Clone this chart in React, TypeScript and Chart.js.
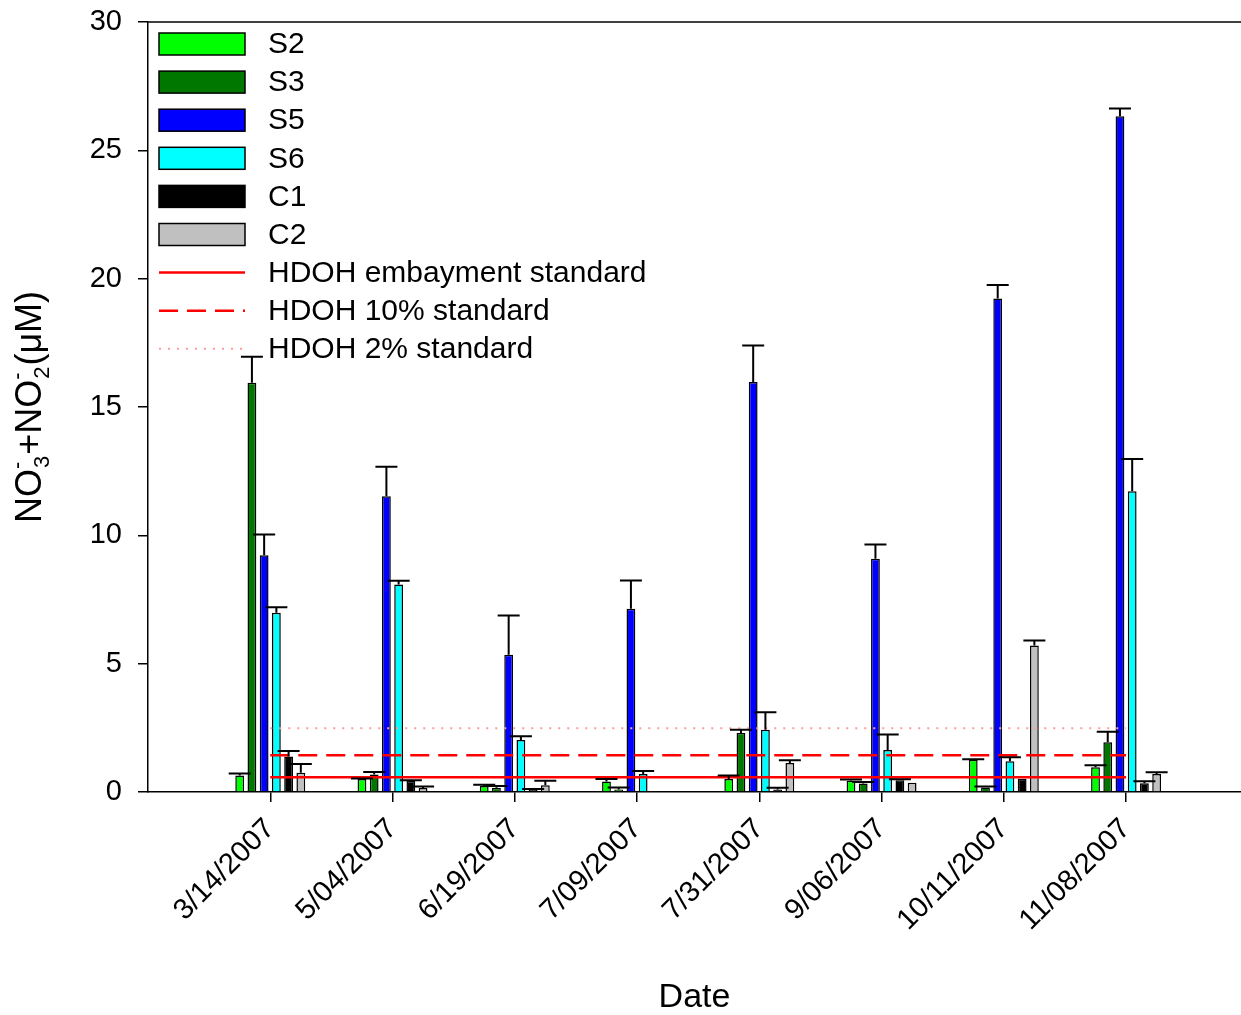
import React, { useEffect, useRef } from 'react';
import { Chart, registerables } from 'chart.js';

Chart.register(...registerables);

const FONT = "'Liberation Sans', Arial, Helvetica, sans-serif";

// ---------- data ----------
const DATES = ['3/14/2007', '5/04/2007', '6/19/2007', '7/09/2007', '7/31/2007', '9/06/2007', '10/11/2007', '11/08/2007'];
const DATE_POS = [1, 2, 3, 4, 5, 6, 7, 8];

const SERIES_NAMES = ['S2', 'S3', 'S5', 'S6', 'C1', 'C2'];

const S2 = [0.64, 0.51, 0.23, 0.41, 0.51, 0.44, 1.26, 0.96];
const S2_ERR = [0.08, 0.02, 0.05, 0.1, 0.13, 0.05, 0.02, 0.08];
const S3 = [15.94, 0.68, 0.17, 0.1, 2.3, 0.33, 0.18, 1.94];
const S3_ERR = [1.02, 0.1, 0.06, 0.08, 0.13, 0.06, 0.03, 0.41];
const S5 = [9.22, 11.52, 5.35, 7.14, 15.97, 9.09, 19.23, 26.33];
const S5_ERR = [0.81, 1.15, 1.53, 1.1, 1.43, 0.55, 0.52, 0.3];
const S6 = [6.98, 8.08, 2.03, 0.7, 2.43, 1.64, 1.2, 11.72];
const S6_ERR = [0.22, 0.15, 0.14, 0.12, 0.68, 0.6, 0.15, 1.25];
const C1 = [1.38, 0.43, 0.08, null, 0.1, 0.46, 0.52, 0.34];
const C1_ERR = [0.22, 0.03, 0.04, 0, 0.07, 0.04, 0, 0.08];
const C2 = [0.75, 0.16, 0.26, null, 1.13, 0.36, 5.71, 0.7];
const C2_ERR = [0.34, 0.05, 0.18, 0, 0.11, 0, 0.19, 0.07];

const SERIES_VALUES = [S2, S3, S5, S6, C1, C2];
const SERIES_ERRORS = [S2_ERR, S3_ERR, S5_ERR, S6_ERR, C1_ERR, C2_ERR];

const STANDARD_NAMES = ['HDOH embayment standard', 'HDOH 10% standard', 'HDOH 2% standard'];
const STANDARD_VALUES = [0.57, 1.43, 2.48];

const Y_TICKS = [0, 5, 10, 15, 20, 25, 30];

// ---------- styles ----------
const SERIES_COLORS = ['#00ff00', '#007800', '#0000ff', '#00ffff', '#000000', '#c0c0c0'];
const STANDARD_STYLES = [
  { color: '#ff0000', width: 2.5, dash: [] as number[] },
  { color: '#ff0000', width: 2.5, dash: [19, 9] },
  { color: '#ff9c9c', width: 2, dash: [2, 7] },
];

const errorBarPlugin = {
  id: 'errorBars',
  afterDatasetsDraw(chart: any) {
    const ctx = chart.ctx;
    const yScale = chart.scales.y;
    ctx.save();
    ctx.strokeStyle = '#000';
    ctx.lineWidth = 2;
    chart.data.datasets.forEach((ds: any, i: number) => {
      if (!ds.errorValues) return;
      const meta = chart.getDatasetMeta(i);
      meta.data.forEach((el: any, j: number) => {
        const v = ds.data[j].y;
        const e = ds.errorValues[j];
        if (v == null || !e) return;
        const yTop = yScale.getPixelForValue(v + e);
        ctx.beginPath();
        ctx.moveTo(el.x, el.y);
        ctx.lineTo(el.x, yTop);
        ctx.moveTo(el.x - 11, yTop);
        ctx.lineTo(el.x + 11, yTop);
        ctx.stroke();
      });
    });
    ctx.restore();
  },
};

const framePlugin = {
  id: 'frameAndLabels',
  afterDraw(chart: any) {
    const { ctx, chartArea } = chart;
    ctx.save();
    // top frame line
    ctx.strokeStyle = '#000';
    ctx.lineWidth = 1.5;
    ctx.beginPath();
    ctx.moveTo(chartArea.left, chartArea.top);
    ctx.lineTo(chartArea.right, chartArea.top);
    ctx.stroke();

    // legend
    const x0 = chartArea.left + 11;
    const boxW = 86;
    const boxH = 22;
    const textX = chartArea.left + 120;
    const rowH = 38.1;
    const y0 = chartArea.top + 22;
    ctx.font = `30px ${FONT}`;
    ctx.textBaseline = 'middle';
    ctx.textAlign = 'left';
    chart.data.datasets.forEach((ds: any, i: number) => {
      const cy = y0 + i * rowH;
      if (ds.type === 'line') {
        ctx.strokeStyle = ds.borderColor;
        ctx.lineWidth = ds.borderWidth;
        ctx.setLineDash(ds.borderDash || []);
        ctx.beginPath();
        ctx.moveTo(x0, cy);
        ctx.lineTo(x0 + boxW, cy);
        ctx.stroke();
        ctx.setLineDash([]);
      } else {
        ctx.fillStyle = ds.backgroundColor;
        ctx.fillRect(x0, cy - boxH / 2, boxW, boxH);
        ctx.strokeStyle = '#000';
        ctx.lineWidth = 1.5;
        ctx.strokeRect(x0, cy - boxH / 2, boxW, boxH);
      }
      ctx.fillStyle = '#000';
      ctx.fillText(ds.label, textX, cy + 1);
    });

    // y-axis title with sub/superscripts
    const big = 36;
    const small = 22;
    const parts: any[] = [
      { t: 'NO' },
      { sub: '3', sup: '-' },
      { t: '+NO' },
      { sub: '2', sup: '-' },
      { t: '(\u03bcM)' },
    ];
    const widths = parts.map((p) => {
      if (p.t) {
        ctx.font = `${big}px ${FONT}`;
        return ctx.measureText(p.t).width;
      }
      ctx.font = `${small}px ${FONT}`;
      return Math.max(ctx.measureText(p.sub).width, ctx.measureText(p.sup).width) + 2;
    });
    const total = widths.reduce((a: number, b: number) => a + b, 0);
    const cy = 407;
    ctx.translate(41, cy + total / 2);
    ctx.rotate(-Math.PI / 2);
    ctx.textBaseline = 'alphabetic';
    ctx.fillStyle = '#000';
    let x = 0;
    parts.forEach((p, k) => {
      if (p.t) {
        ctx.font = `${big}px ${FONT}`;
        ctx.fillText(p.t, x, 0);
      } else {
        ctx.font = `${small}px ${FONT}`;
        ctx.fillText(p.sub, x + 1, 8);
        ctx.fillText(p.sup, x, -17);
      }
      x += widths[k];
    });
    ctx.restore();
  },
};

export default function App() {
  const ref = useRef<HTMLCanvasElement | null>(null);

  useEffect(() => {
    if (!ref.current) return;
    const barSets = SERIES_NAMES.map((name, i) => ({
      type: 'bar' as const,
      label: name,
      data: DATE_POS.map((p, j) => ({ x: p, y: SERIES_VALUES[i][j] })),
      errorValues: SERIES_ERRORS[i],
      backgroundColor: SERIES_COLORS[i],
      borderColor: '#000',
      borderWidth: 1.5,
      categoryPercentage: 0.6,
      barPercentage: 0.72,
      order: 1,
    }));
    const lineSets = STANDARD_NAMES.map((name, i) => ({
      type: 'line' as const,
      label: name,
      data: [
        { x: DATE_POS[0], y: STANDARD_VALUES[i] },
        { x: DATE_POS[DATE_POS.length - 1], y: STANDARD_VALUES[i] },
      ],
      borderColor: STANDARD_STYLES[i].color,
      borderWidth: STANDARD_STYLES[i].width,
      borderDash: STANDARD_STYLES[i].dash,
      pointRadius: 0,
      fill: false,
      order: 0,
    }));

    const chart = new Chart(ref.current, {
      type: 'bar',
      data: { datasets: [...barSets, ...lineSets] as any },
      options: {
        animation: false,
        responsive: false,
        devicePixelRatio: 1,
        layout: { padding: { left: 0, right: 0, top: 22, bottom: 0 } },
        plugins: { legend: { display: false }, tooltip: { enabled: false } },
        scales: {
          x: {
            type: 'linear',
            min: 0,
            max: 8.94,
            offset: false,
            afterFit: (s: any) => {
              s.height = 223;
              s.paddingLeft = 0;
              s.paddingRight = 0;
            },
            afterBuildTicks: (s: any) => {
              s.ticks = DATE_POS.map((v) => ({ value: v }));
            },
            grid: {
              offset: false,
              drawOnChartArea: false,
              drawTicks: true,
              tickLength: 10,
              color: '#000',
              lineWidth: 1.5,
            },
            border: { display: true, color: '#000', width: 1.5 },
            ticks: {
              autoSkip: false,
              minRotation: 45,
              maxRotation: 45,
              padding: 10,
              color: '#000',
              font: { family: FONT, size: 29 },
              callback: (v: any) => {
                const idx = DATE_POS.indexOf(Number(v));
                return idx >= 0 ? DATES[idx] : '';
              },
            },
            title: {
              display: true,
              text: 'Date',
              color: '#000',
              font: { family: FONT, size: 34, lineHeight: 1.0 },
              padding: { top: 0, bottom: 0 },
            },
          },
          y: {
            type: 'linear',
            min: Y_TICKS[0],
            max: Y_TICKS[Y_TICKS.length - 1],
            afterFit: (s: any) => {
              s.width = 148;
              s.paddingTop = 0;
              s.paddingBottom = 0;
            },
            afterBuildTicks: (s: any) => {
              s.ticks = Y_TICKS.map((v) => ({ value: v }));
            },
            grid: {
              drawOnChartArea: false,
              drawTicks: true,
              tickLength: 10,
              color: '#000',
              lineWidth: 1.5,
            },
            border: { display: true, color: '#000', width: 1.5 },
            ticks: {
              padding: 16,
              color: '#000',
              font: { family: FONT, size: 29 },
            },
          },
        },
      },
      plugins: [errorBarPlugin, framePlugin],
    });
    return () => chart.destroy();
  }, []);

  return (
    <div style={{ position: 'absolute', left: 0, top: 0, width: 1241, height: 1015, background: '#fff' }}>
      <canvas ref={ref} width={1241} height={1015} style={{ display: 'block' }} />
    </div>
  );
}
